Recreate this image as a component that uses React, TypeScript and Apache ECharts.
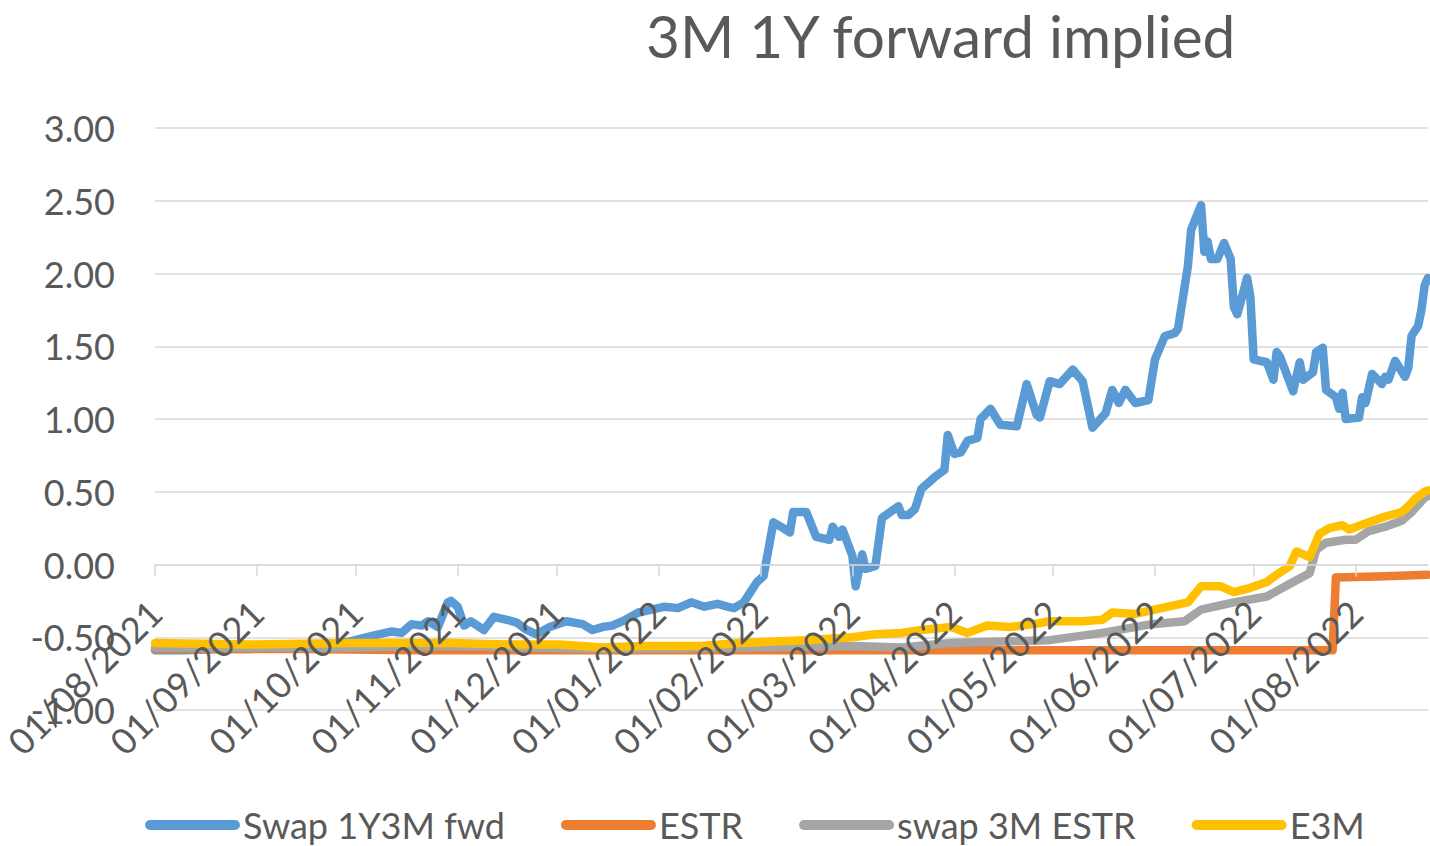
import React, { useEffect, useRef } from "react";
import * as echarts from "echarts";

const titleText = "3M 1Y forward implied";
const seriesNames = ["Swap 1Y3M fwd", "ESTR", "swap 3M ESTR", "E3M"];
const seriesColors = ["#5B9BD5", "#ED7D31", "#A5A5A5", "#FFC000"];
const yMin = -1;
const yMax = 3;
const yInterval = 0.5;
const startDate = "2021-08-01";
const endDate = "2022-08-23";

const swap1y3mFwd: [string, number][] = [
  ["2021-08-01", -0.59], ["2021-08-10", -0.59], ["2021-08-21", -0.58], ["2021-08-30", -0.58],
  ["2021-09-08", -0.57], ["2021-09-20", -0.56], ["2021-09-29", -0.53], ["2021-10-06", -0.49],
  ["2021-10-12", -0.46], ["2021-10-15", -0.47], ["2021-10-18", -0.41], ["2021-10-21", -0.42],
  ["2021-10-23", -0.39], ["2021-10-26", -0.43], ["2021-10-29", -0.26], ["2021-10-30", -0.25],
  ["2021-11-01", -0.29], ["2021-11-03", -0.42], ["2021-11-05", -0.39], ["2021-11-07", -0.42],
  ["2021-11-09", -0.45], ["2021-11-12", -0.36], ["2021-11-16", -0.38], ["2021-11-19", -0.40],
  ["2021-11-22", -0.45], ["2021-11-25", -0.48], ["2021-11-29", -0.43], ["2021-12-04", -0.39],
  ["2021-12-09", -0.41], ["2021-12-12", -0.45], ["2021-12-15", -0.43], ["2021-12-18", -0.42],
  ["2021-12-22", -0.38], ["2021-12-26", -0.33], ["2021-12-30", -0.31], ["2022-01-03", -0.29],
  ["2022-01-07", -0.30], ["2022-01-11", -0.26], ["2022-01-15", -0.29], ["2022-01-19", -0.27],
  ["2022-01-22", -0.29], ["2022-01-24", -0.30], ["2022-01-27", -0.26], ["2022-01-29", -0.19],
  ["2022-01-31", -0.12], ["2022-02-02", -0.08], ["2022-02-05", 0.29], ["2022-02-08", 0.25],
  ["2022-02-10", 0.22], ["2022-02-11", 0.36], ["2022-02-15", 0.36], ["2022-02-18", 0.19],
  ["2022-02-22", 0.17], ["2022-02-23", 0.26], ["2022-02-25", 0.19], ["2022-02-26", 0.24],
  ["2022-03-01", 0.06], ["2022-03-02", -0.15], ["2022-03-04", 0.07], ["2022-03-05", -0.03],
  ["2022-03-08", -0.01], ["2022-03-10", 0.32], ["2022-03-15", 0.40], ["2022-03-16", 0.34],
  ["2022-03-18", 0.34], ["2022-03-20", 0.38], ["2022-03-22", 0.52], ["2022-03-26", 0.60],
  ["2022-03-29", 0.65], ["2022-03-30", 0.89], ["2022-04-01", 0.76], ["2022-04-03", 0.77],
  ["2022-04-05", 0.85], ["2022-04-08", 0.87], ["2022-04-09", 1.00], ["2022-04-12", 1.07],
  ["2022-04-15", 0.96], ["2022-04-20", 0.95], ["2022-04-23", 1.24], ["2022-04-26", 1.03],
  ["2022-04-27", 1.01], ["2022-04-30", 1.26], ["2022-05-03", 1.24], ["2022-05-05", 1.29],
  ["2022-05-07", 1.34], ["2022-05-10", 1.26], ["2022-05-13", 0.94], ["2022-05-17", 1.04],
  ["2022-05-19", 1.20], ["2022-05-21", 1.11], ["2022-05-23", 1.20], ["2022-05-26", 1.11],
  ["2022-05-30", 1.13], ["2022-06-01", 1.41], ["2022-06-04", 1.57], ["2022-06-07", 1.59],
  ["2022-06-08", 1.62], ["2022-06-11", 2.05], ["2022-06-12", 2.30], ["2022-06-15", 2.47],
  ["2022-06-16", 2.15], ["2022-06-17", 2.22], ["2022-06-18", 2.10], ["2022-06-20", 2.10],
  ["2022-06-22", 2.21], ["2022-06-24", 2.10], ["2022-06-25", 1.77], ["2022-06-26", 1.72],
  ["2022-06-27", 1.80], ["2022-06-29", 1.97], ["2022-06-30", 1.84], ["2022-07-01", 1.41],
  ["2022-07-05", 1.39], ["2022-07-07", 1.27], ["2022-07-08", 1.46], ["2022-07-09", 1.43],
  ["2022-07-13", 1.19], ["2022-07-15", 1.39], ["2022-07-16", 1.27], ["2022-07-19", 1.32],
  ["2022-07-20", 1.46], ["2022-07-22", 1.49], ["2022-07-23", 1.20], ["2022-07-26", 1.15],
  ["2022-07-27", 1.07], ["2022-07-28", 1.18], ["2022-07-29", 1.00], ["2022-08-02", 1.01],
  ["2022-08-03", 1.15], ["2022-08-04", 1.11], ["2022-08-06", 1.31], ["2022-08-09", 1.24],
  ["2022-08-10", 1.29], ["2022-08-11", 1.27], ["2022-08-13", 1.40], ["2022-08-16", 1.29],
  ["2022-08-17", 1.35], ["2022-08-18", 1.57], ["2022-08-20", 1.64], ["2022-08-21", 1.75],
  ["2022-08-22", 1.92], ["2022-08-23", 1.97],
];

const estr: [string, number][] = [
  ["2021-08-01", -0.58], ["2021-09-15", -0.58], ["2021-10-20", -0.59], ["2021-12-15", -0.59],
  ["2022-03-01", -0.59], ["2022-05-15", -0.59], ["2022-07-25", -0.59], ["2022-07-26", -0.09],
  ["2022-08-10", -0.08], ["2022-08-23", -0.07],
];

const swap3mEstr: [string, number][] = [
  ["2021-08-01", -0.57], ["2021-09-29", -0.57], ["2021-10-30", -0.56], ["2021-12-15", -0.58],
  ["2022-01-26", -0.57], ["2022-03-01", -0.56], ["2022-03-16", -0.57], ["2022-03-31", -0.54],
  ["2022-04-15", -0.53], ["2022-04-30", -0.52], ["2022-05-16", -0.47], ["2022-05-31", -0.41],
  ["2022-06-10", -0.39], ["2022-06-15", -0.31], ["2022-06-25", -0.26], ["2022-07-05", -0.22],
  ["2022-07-13", -0.12], ["2022-07-18", -0.06], ["2022-07-20", 0.10], ["2022-07-23", 0.15],
  ["2022-07-29", 0.17], ["2022-08-01", 0.17], ["2022-08-05", 0.23], ["2022-08-10", 0.26],
  ["2022-08-15", 0.30], ["2022-08-18", 0.36], ["2022-08-22", 0.46], ["2022-08-23", 0.47],
];

const e3m: [string, number][] = [
  ["2021-08-01", -0.54], ["2021-08-30", -0.55], ["2021-09-29", -0.54], ["2021-10-30", -0.54],
  ["2021-11-16", -0.55], ["2021-12-02", -0.55], ["2021-12-15", -0.57], ["2021-12-27", -0.56],
  ["2022-01-14", -0.56], ["2022-01-26", -0.54], ["2022-02-15", -0.52], ["2022-03-01", -0.50],
  ["2022-03-08", -0.48], ["2022-03-16", -0.47], ["2022-03-22", -0.45], ["2022-03-31", -0.43],
  ["2022-04-05", -0.47], ["2022-04-11", -0.42], ["2022-04-18", -0.43], ["2022-04-25", -0.41],
  ["2022-04-30", -0.39], ["2022-05-10", -0.39], ["2022-05-16", -0.38], ["2022-05-19", -0.33],
  ["2022-05-26", -0.34], ["2022-06-05", -0.29], ["2022-06-11", -0.26], ["2022-06-15", -0.15],
  ["2022-06-21", -0.15], ["2022-06-25", -0.19], ["2022-06-30", -0.16], ["2022-07-05", -0.12],
  ["2022-07-08", -0.07], ["2022-07-12", -0.01], ["2022-07-14", 0.09], ["2022-07-18", 0.05],
  ["2022-07-21", 0.21], ["2022-07-24", 0.25], ["2022-07-28", 0.27], ["2022-07-30", 0.24],
  ["2022-08-05", 0.29], ["2022-08-10", 0.33], ["2022-08-15", 0.36], ["2022-08-17", 0.40],
  ["2022-08-19", 0.45], ["2022-08-22", 0.50], ["2022-08-23", 0.51],
];

const seriesData = [swap1y3mFwd, estr, swap3mEstr, e3m];

function buildDays(start: string, end: string): string[] {
  const out: string[] = [];
  const s = new Date(start + "T00:00:00Z").getTime();
  const e = new Date(end + "T00:00:00Z").getTime();
  for (let t = s; t <= e; t += 86400000) {
    out.push(new Date(t).toISOString().slice(0, 10));
  }
  return out;
}

const fmtDate = (v: string) => {
  const [y, m, d] = v.split("-");
  return `${d}/${m}/${y}`;
};

const isMonthStart = (_i: number, v: string) => v.endsWith("-01");

const FONT = "Lato, Carlito, Calibri, sans-serif";
const TEXT = "#595959";
const GRID = "#D9D9D9";

const GRID_TOP = 128;
const GRID_BOTTOM = 136;
const CHART_H = 846;

export default function App() {
  const ref = useRef<HTMLDivElement>(null);
  useEffect(() => {
    if (!ref.current) return;
    const chart = echarts.init(ref.current, undefined, { renderer: "svg" });
    const days = buildDays(startDate, endDate);
    const plotH = CHART_H - GRID_TOP - GRID_BOTTOM;
    // move the category axis up to the zero line (Excel: axis crosses at 0)
    const zeroOffset = -((0 - yMin) / (yMax - yMin)) * plotH;
    chart.setOption({
      animation: false,
      backgroundColor: "#ffffff",
      title: {
        text: titleText,
        left: 641,
        top: 0,
        textStyle: { fontFamily: FONT, fontSize: 58.5, fontWeight: "normal", color: TEXT },
      },
      legend: {
        data: seriesNames,
        left: 140,
        top: 802,
        itemWidth: 95,
        itemHeight: 10,
        itemGap: 56,
        icon: "path://M5 0H90A5 5 0 0 1 90 10H5A5 5 0 0 1 5 0Z",
        textStyle: { fontFamily: FONT, fontSize: 36, color: TEXT, padding: [0, 0, 0, -2] },
      },
      grid: {
        left: 155,
        right: 2,
        top: GRID_TOP,
        bottom: GRID_BOTTOM,
        containLabel: false,
        outerBoundsMode: "none",
      },
      xAxis: {
        type: "category",
        data: days,
        boundaryGap: false,
        offset: zeroOffset,
        z: 5,
        axisLine: { onZero: false, lineStyle: { color: GRID, width: 1.5 } },
        axisTick: { show: true, interval: isMonthStart, length: 12, lineStyle: { color: GRID, width: 1.5 } },
        axisLabel: {
          interval: isMonthStart,
          rotate: 45,
          margin: 42,
          formatter: fmtDate,
          fontFamily: FONT,
          fontSize: 36,
          color: TEXT,
          hideOverlap: false,
        },
        splitLine: { show: false },
      },
      yAxis: {
        type: "value",
        min: yMin,
        max: yMax,
        interval: yInterval,
        axisLine: { show: false },
        axisTick: { show: false },
        axisLabel: {
          formatter: (v: number) => v.toFixed(2),
          fontFamily: FONT,
          fontSize: 36,
          color: TEXT,
          margin: 40,
        },
        splitLine: { lineStyle: { color: GRID, width: 1.5 } },
      },
      series: seriesNames.map((name, i) => ({
        name,
        type: "line",
        data: seriesData[i],
        showSymbol: false,
        symbol: "none",
        color: seriesColors[i],
        lineStyle: { width: 8.5, color: seriesColors[i], cap: "round", join: "round" },
      })),
    });
    return () => chart.dispose();
  }, []);
  return (
    <div
      ref={ref}
      style={{ position: "fixed", left: 0, top: 0, width: 1430, height: 846, background: "#fff" }}
    />
  );
}
